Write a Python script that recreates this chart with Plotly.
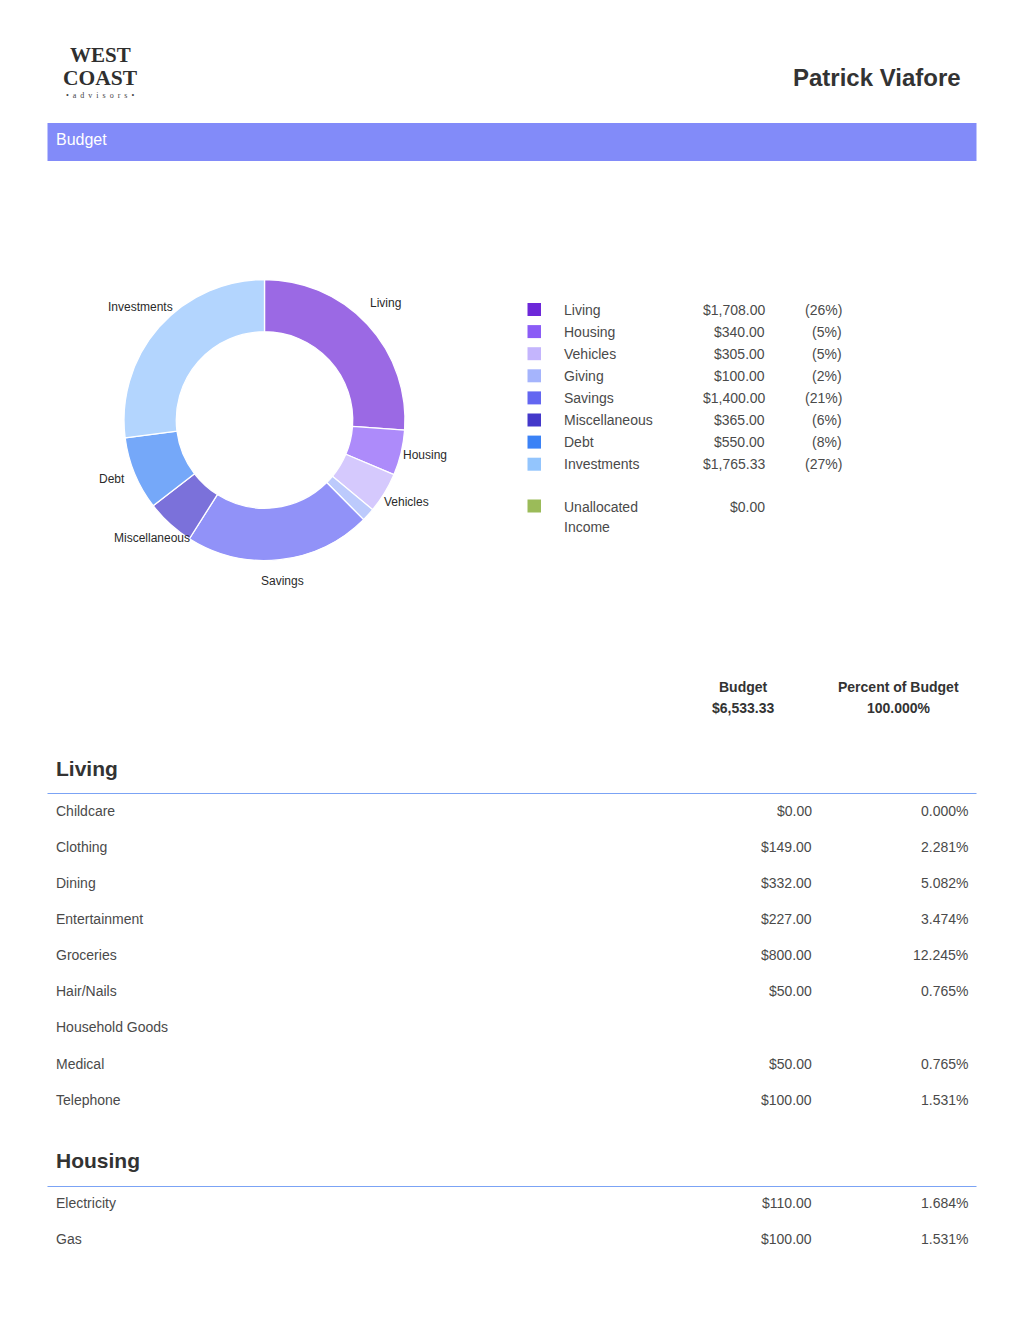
import plotly.graph_objects as go

W = 1024
H = 1324

categories = ["Living", "Housing", "Vehicles", "Giving", "Savings", "Miscellaneous", "Debt", "Investments"]
budget_values = [1708.00, 340.00, 305.00, 100.00, 1400.00, 365.00, 550.00, 1765.33]
budget_percents = [26, 5, 5, 2, 21, 6, 8, 27]
unallocated = 0.00

total_budget = "$6,533.33"
total_percent = "100.000%"

living_items = ["Childcare", "Clothing", "Dining", "Entertainment", "Groceries", "Hair/Nails",
                "Household Goods", "Medical", "Telephone"]
living_amounts = [0.00, 149.00, 332.00, 227.00, 800.00, 50.00, None, 50.00, 100.00]
living_percents = [0.000, 2.281, 5.082, 3.474, 12.245, 0.765, None, 0.765, 1.531]

housing_items = ["Electricity", "Gas"]
housing_amounts = [110.00, 100.00]
housing_percents = [1.684, 1.531]

slice_colors = ["#9b69e4", "#ad8bfa", "#d5c9fd", "#bccafc", "#9192f8", "#7b71da", "#75a8f9", "#b3d5fe"]
legend_colors = ["#6d28d9", "#8b5cf6", "#c4b5fd", "#a5b4fc", "#6366f1", "#4338ca", "#3b82f6", "#93c5fd"]

TEXT = "#4a4a4a"
DARK = "#333333"
SANS = "Liberation Sans"
SERIF = "Liberation Serif"


def px(x):
    return x / W


def py(y):
    return 1 - y / H


annotations = []
shapes = []


def add_text(x, y, text, size=14, color=TEXT, anchor="left", family=SANS, bold=False):
    if bold:
        text = f"<b>{text}</b>"
    annotations.append(dict(
        x=px(x), y=py(y), xref="paper", yref="paper", text=text, showarrow=False,
        xanchor=anchor, yanchor="middle", borderpad=0, borderwidth=0,
        font=dict(family=family, size=size, color=color),
    ))


def add_rect(x0, y0, x1, y1, color):
    shapes.append(dict(
        type="rect", xref="paper", yref="paper", layer="below",
        x0=px(x0), x1=px(x1), y0=py(y0), y1=py(y1),
        fillcolor=color, line=dict(width=0),
    ))


def money(v):
    return f"${v:,.2f}"


# header
add_text(100, 55.5, "WEST", size=21, color="#2f2f2f", anchor="center", family=SERIF, bold=True)
add_text(100, 78, "COAST", size=21.5, color="#2f2f2f", anchor="center", family=SERIF, bold=True)
add_text(100, 95.5, "\u00a0\u00a0".join("•advisors•"), size=8, color="#444444", anchor="center", family=SERIF)
add_text(961, 77.5, "Patrick Viafore", size=24, color=DARK, anchor="right", bold=True)

add_rect(47.5, 123, 976.5, 161, "#828bf9")
add_text(55.5, 139.6, "Budget", size=16, color="#ffffff")

# labels around the donut
slice_labels = {
    "Investments": (140, 307, "center"), "Living": (385.5, 303.5, "center"),
    "Housing": (425, 454.5, "center"), "Vehicles": (406, 502, "center"),
    "Savings": (282, 580.5, "center"), "Miscellaneous": (152, 538, "center"),
    "Debt": (111.5, 479, "center"),
}
for name, (x, y, anchor) in slice_labels.items():
    add_text(x, y, name, size=12, color="#2a2a2a", anchor=anchor)

# legend table
for i, name in enumerate(categories):
    y = 309.5 + i * 22.1
    add_rect(527.5, y - 6.5, 541, y + 6.5, legend_colors[i])
    add_text(564.3, y, name)
    add_text(765, y, money(budget_values[i]), anchor="right")
    add_text(841.5, y, f"({budget_percents[i]}%)", anchor="right")

add_rect(527.5, 499.5, 541, 512.5, "#9bbb59")
add_text(564.3, 506.5, "Unallocated")
add_text(564.3, 527, "Income")
add_text(765, 506.5, money(unallocated), anchor="right")

# totals
add_text(743.5, 687, "Budget", size=14, color=DARK, anchor="center", bold=True)
add_text(743.2, 707.5, total_budget, size=14, color=DARK, anchor="center", bold=True)
add_text(898.5, 687, "Percent of Budget", size=14, color=DARK, anchor="center", bold=True)
add_text(898.5, 707.5, total_percent, size=14, color=DARK, anchor="center", bold=True)


def add_section(title, title_y, line_y, first_row_y, items, amounts, percents):
    add_text(55.5, title_y, title, size=21, color=DARK, bold=True)
    add_rect(47.5, line_y, 976.5, line_y + 1, "#7ba3f5")
    for i, item in enumerate(items):
        y = first_row_y + i * 36.12
        add_text(55.5, y, item)
        if amounts[i] is not None:
            add_text(812, y, money(amounts[i]), anchor="right")
            add_text(968, y, f"{percents[i]:.3f}%", anchor="right")


add_section("Living", 768, 793, 810.7, living_items, living_amounts, living_percents)
add_section("Housing", 1160, 1186, 1203, housing_items, housing_amounts, housing_percents)

fig = go.Figure(go.Pie(
    labels=categories,
    values=budget_values,
    sort=False,
    direction="clockwise",
    rotation=0,
    hole=0.628,
    textinfo="none",
    showlegend=False,
    marker=dict(colors=slice_colors, line=dict(color="#ffffff", width=1.3)),
    domain=dict(x=[px(124), px(405)], y=[py(560.5), py(279.5)]),
))

fig.update_layout(
    width=W,
    height=H,
    autosize=False,
    margin=dict(l=0, r=0, t=0, b=0),
    paper_bgcolor="#ffffff",
    plot_bgcolor="#ffffff",
    annotations=annotations,
    shapes=shapes,
)

fig.write_html("out.html", config={"displayModeBar": False}, post_script="document.body.style.margin='0';")
